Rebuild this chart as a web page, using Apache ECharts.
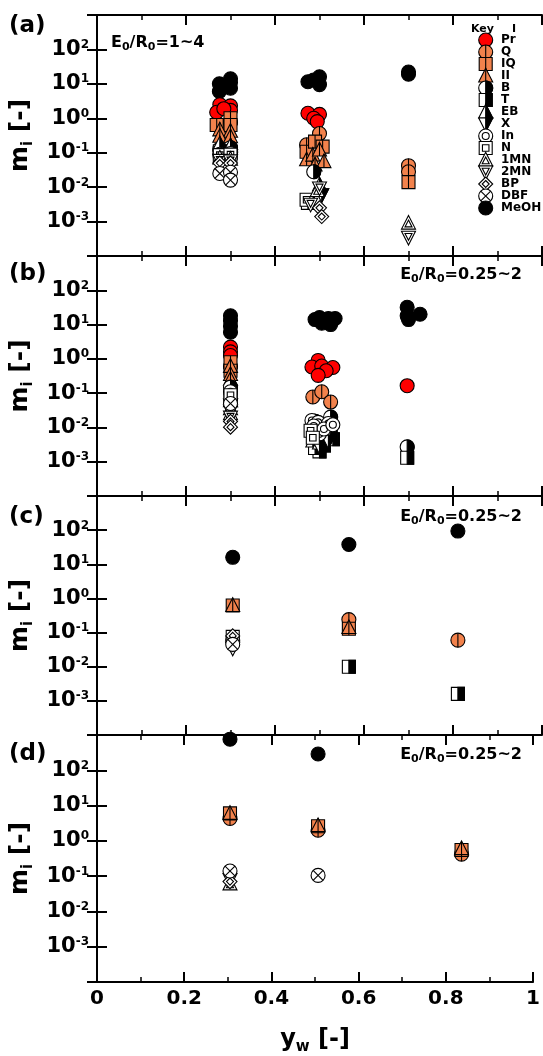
<!DOCTYPE html>
<html><head><meta charset="utf-8">
<script src="https://cdn.jsdelivr.net/npm/echarts@6/dist/echarts.min.js"></script>
<style>html,body{margin:0;padding:0;background:#fff}#c{width:543px;height:1056px}</style>
</head><body><div id="c"></div>
<script>
// ---------- data ----------
const speciesNames = ['Pr','Q','IQ','II','B','T','EB','X','In','N','1MN','2MN','BP','DBF','MeOH'];
const panelLabels = ['(a)','(b)','(c)','(d)'];
const ratioTexts = ['1~4','0.25~2','0.25~2','0.25~2'];
const xTicks = [0, 0.2, 0.4, 0.6, 0.8, 1];
const yDecades = [-3, -2, -1, 0, 1, 2];

// [species, y_w, m_i]
const dataA = [
  ['MeOH',0.275,10],['MeOH',0.275,6],['MeOH',0.285,8],['MeOH',0.30,14],['MeOH',0.30,11],['MeOH',0.30,7.5],
  ['MeOH',0.474,11.5],['MeOH',0.487,13],['MeOH',0.50,16],['MeOH',0.50,9.5],['MeOH',0.70,22],['MeOH',0.70,19],
  ['Pr',0.276,2.5],['Pr',0.269,1.5],['Pr',0.30,2.3],['Pr',0.30,1.7],['Pr',0.285,1.9],
  ['Pr',0.474,1.4],['Pr',0.50,1.3],['Pr',0.487,1.0],['Pr',0.495,0.8],
  ['Q',0.275,0.6],['Q',0.30,0.75],['Q',0.50,0.36],['Q',0.471,0.17],['Q',0.70,0.042],['Q',0.70,0.028],
  ['IQ',0.269,0.64],['IQ',0.30,1.0],['IQ',0.30,0.64],['IQ',0.471,0.107],['IQ',0.49,0.21],['IQ',0.507,0.15],['IQ',0.70,0.014],
  ['II',0.276,0.46],['II',0.30,0.42],['II',0.276,0.3],['II',0.30,0.29],
  ['II',0.471,0.062],['II',0.485,0.085],['II',0.50,0.12],['II',0.49,0.044],['II',0.51,0.055],
  ['B',0.276,0.13],['B',0.30,0.14],['B',0.487,0.028],
  ['T',0.276,0.11],['T',0.30,0.1],['T',0.474,0.0035],
  ['EB',0.276,0.18],['EB',0.30,0.16],['EB',0.50,0.0115],
  ['X',0.276,0.075],['X',0.30,0.08],['X',0.505,0.006],
  ['In',0.276,0.09],['In',0.30,0.095],
  ['N',0.276,0.085],['N',0.30,0.088],['N',0.471,0.0043],
  ['1MN',0.276,0.07],['1MN',0.30,0.065],['1MN',0.495,0.008],['1MN',0.70,0.0009],
  ['2MN',0.276,0.06],['2MN',0.30,0.058],['2MN',0.50,0.0095],['2MN',0.48,0.0032],['2MN',0.70,0.00035],
  ['BP',0.276,0.05],['BP',0.30,0.05],['BP',0.50,0.0025],['BP',0.505,0.0014],
  ['DBF',0.276,0.025],['DBF',0.30,0.027],['DBF',0.30,0.016]
];
const dataB = [
  ['MeOH',0.30,18],['MeOH',0.30,13],['MeOH',0.30,9],['MeOH',0.30,6],
  ['MeOH',0.49,14],['MeOH',0.50,16],['MeOH',0.51,13],['MeOH',0.52,15],['MeOH',0.535,15],['MeOH',0.505,11],['MeOH',0.525,10],
  ['MeOH',0.697,32],['MeOH',0.697,18],['MeOH',0.70,14],['MeOH',0.726,20],
  ['Pr',0.30,2.2],['Pr',0.30,1.6],['Pr',0.30,1.25],
  ['Pr',0.497,0.9],['Pr',0.483,0.58],['Pr',0.505,0.62],['Pr',0.53,0.56],['Pr',0.515,0.45],['Pr',0.497,0.33],['Pr',0.697,0.165],
  ['Q',0.30,0.6],['Q',0.485,0.077],['Q',0.505,0.11],['Q',0.525,0.055],
  ['IQ',0.30,0.8],['IQ',0.30,0.45],
  ['II',0.30,0.6],['II',0.30,0.35],['II',0.30,0.25],
  ['B',0.30,0.15],['B',0.525,0.02],['B',0.49,0.015],['B',0.697,0.0027],
  ['T',0.30,0.08],['T',0.51,0.003],['T',0.53,0.0045],['T',0.50,0.002],['T',0.525,0.006],['T',0.49,0.0025],['T',0.697,0.0013],
  ['EB',0.30,0.06],['EB',0.485,0.004],['EB',0.50,0.0035],
  ['X',0.30,0.045],['X',0.50,0.0028],['X',0.52,0.004],
  ['In',0.30,0.11],['In',0.483,0.016],['In',0.497,0.014],['In',0.52,0.013],['In',0.50,0.0065],['In',0.487,0.011],['In',0.51,0.009],['In',0.53,0.012],
  ['N',0.30,0.087],['N',0.48,0.008],['N',0.485,0.005],
  ['1MN',0.30,0.035],['1MN',0.30,0.025],
  ['2MN',0.30,0.03],['2MN',0.30,0.02],
  ['BP',0.30,0.015],['BP',0.30,0.0102],
  ['DBF',0.30,0.05]
];
const dataC = [
  ['MeOH',0.305,16],['MeOH',0.566,38],['MeOH',0.811,94],
  ['IQ',0.305,0.62],['IQ',0.566,0.13],
  ['II',0.305,0.62],['II',0.566,0.14],
  ['Q',0.566,0.24],['Q',0.811,0.06],
  ['T',0.566,0.01],['T',0.811,0.0016],
  ['In',0.305,0.06],['N',0.305,0.075],['BP',0.305,0.08],['2MN',0.305,0.035],['DBF',0.305,0.045]
];
const dataD = [
  ['MeOH',0.305,760],['MeOH',0.507,290],
  ['Q',0.305,4.3],['Q',0.507,2.0],['Q',0.836,0.42],
  ['IQ',0.305,6],['IQ',0.507,2.6],['IQ',0.836,0.55],
  ['II',0.305,6],['II',0.507,2.7],['II',0.836,0.6],
  ['2MN',0.305,0.08],['BP',0.305,0.07],['1MN',0.305,0.06],
  ['DBF',0.305,0.14],['DBF',0.507,0.105]
];
const panelData = [dataA, dataB, dataC, dataD];

// ---------- styling ----------
const F = 'DejaVu Sans';
const RED = '#ff0000', ORANGE = '#f2824c';
const R = 7;
const drawOrder = ['MeOH','Pr','Q','IQ','II','B','T','EB','X','In','N','1MN','2MN','BP','DBF'];

function st(fill){ return {fill: fill, stroke:'#000', lineWidth:1.1}; }
function circ(x,y,r,fill){ return {type:'circle', shape:{cx:x,cy:y,r:r}, style:st(fill)}; }
function poly(pts,fill){ return {type:'polygon', shape:{points:pts}, style:st(fill)}; }
function ln(x1,y1,x2,y2){ return {type:'line', shape:{x1:x1,y1:y1,x2:x2,y2:y2}, style:{stroke:'#000', lineWidth:1.1}}; }
function sqP(x,y,h){ return [[x-h,y-h],[x+h,y-h],[x+h,y+h],[x-h,y+h]]; }
function triP(x,y,h){ return [[x,y-h*1.1],[x+h,y+h*0.85],[x-h,y+h*0.85]]; }
function invP(x,y,h){ return [[x-h,y-h*0.85],[x+h,y-h*0.85],[x,y+h*1.1]]; }
function diaP(x,y,h){ return [[x,y-h],[x+h,y],[x,y+h],[x-h,y]]; }
function halfCircP(x,y,r){ const p=[]; for(let i=0;i<=16;i++){ const a=-Math.PI/2+Math.PI*i/16; p.push([x+r*Math.cos(a), y+r*Math.sin(a)]); } return p; }

function markerEls(sp, x, y){
  const h = R-0.5;
  switch(sp){
    case 'Pr': return [circ(x,y,R,RED)];
    case 'MeOH': return [circ(x,y,R,'#000')];
    case 'Q': return [circ(x,y,R,ORANGE), ln(x,y-R,x,y+R)];
    case 'IQ': return [poly(sqP(x,y,h),ORANGE), ln(x,y-h,x,y+h)];
    case 'II': return [poly(triP(x,y,R),ORANGE), ln(x,y-R*1.1,x,y+R*0.85)];
    case 'B': return [circ(x,y,R,'#fff'), poly(halfCircP(x,y,R),'#000')];
    case 'T': return [poly(sqP(x,y,h),'#fff'), poly([[x,y-h],[x+h,y-h],[x+h,y+h],[x,y+h]],'#000')];
    case 'EB': return [poly(triP(x,y,R),'#fff'), poly([[x,y-R*1.1],[x+R,y+R*0.85],[x,y+R*0.85]],'#000')];
    case 'X': return [poly(invP(x,y,R),'#fff'), poly([[x,y-R*0.85],[x+R,y-R*0.85],[x,y+R*1.1]],'#000')];
    case 'In': return [circ(x,y,R,'#fff'), circ(x,y,R*0.5,'#fff')];
    case 'N': return [poly(sqP(x,y,h),'#fff'), poly(sqP(x,y,h*0.5),'#fff')];
    case '1MN': return [poly(triP(x,y,R),'#fff'), poly(triP(x,y+0.8,R*0.5),'#fff')];
    case '2MN': return [poly(invP(x,y,R),'#fff'), poly(invP(x,y-0.8,R*0.5),'#fff')];
    case 'BP': return [poly(diaP(x,y,R),'#fff'), poly(diaP(x,y,R*0.5),'#fff')];
    case 'DBF': { const d=R*0.707; return [circ(x,y,R,'#fff'), ln(x-d,y-d,x+d,y+d), ln(x-d,y+d,x+d,y-d)]; }
  }
  return [];
}

// ---------- layout ----------
const grids = [
  {left:97, top:15,  width:445, height:241},
  {left:97, top:256, width:445, height:240},
  {left:97, top:496, width:445, height:239},
  {left:97, top:735, width:445, height:252}
];
const axLine = {show:true, lineStyle:{color:'#000', width:2}};

const xAxes = [], yAxes = [], series = [];
grids.forEach((g, gi) => {
  const last = gi === grids.length-1;
  ['bottom','top'].forEach(pos => {
    xAxes.push({
      type:'value', gridIndex:gi, position:pos, min:0, max:1, interval:0.2,
      axisLine:axLine, splitLine:{show:false},
      axisTick:{show:true, inside:true, length:10, lineStyle:{color:'#000', width:2}},
      minorTick:{show:true, splitNumber:2, length:5, lineStyle:{color:'#000', width:1.5}},
      axisLabel:{show: last && pos==='bottom', margin:7, color:'#000', fontFamily:F, fontWeight:'bold', fontSize:20,
        formatter: v => xTicks.indexOf(v) >= 0 ? String(v) : ''},
      name: (last && pos==='bottom') ? '{m|y}{s|w}{m| [-]}' : '',
      nameLocation:'middle', nameGap:43,
      nameTextStyle:{rich:{m:{fontSize:24, fontWeight:'bold', fontFamily:F, color:'#000', lineHeight:30},
                           s:{fontSize:15, fontWeight:'bold', fontFamily:F, color:'#000', lineHeight:15, verticalAlign:'bottom'}}}
    });
  });
  ['left','right'].forEach(pos => {
    yAxes.push({
      type:'log', logBase:10, gridIndex:gi, position:pos, min:1e-4, max:1e3, splitNumber:7,
      axisLine:axLine, splitLine:{show:false},
      axisTick:{show:true, inside:true, length:10, lineStyle:{color:'#000', width:2}},
      axisLabel:{show: pos==='left', margin:8, color:'#000',
        formatter: v => { const e = Math.round(Math.log10(v)); return yDecades.indexOf(e) >= 0 ? '{b|10}{s|' + e + '}' : ''; },
        rich:{b:{fontSize:21, fontWeight:'bold', fontFamily:F, color:'#000', lineHeight:21},
              s:{fontSize:12, fontWeight:'bold', fontFamily:F, color:'#000', lineHeight:12, verticalAlign:'top'}}},
      name: pos==='left' ? '{m|m}{s|i}{m| [-]}' : '',
      nameLocation:'middle', nameGap:46, nameRotate:90,
      nameTextStyle:{rich:{m:{fontSize:25, fontWeight:'bold', fontFamily:F, color:'#000', lineHeight:30},
                           s:{fontSize:15, fontWeight:'bold', fontFamily:F, color:'#000', lineHeight:15, verticalAlign:'bottom'}}}
    });
  });
  const data = panelData[gi];
  drawOrder.forEach(sp => {
    const pts = data.filter(d => d[0] === sp).map(d => [d[1], d[2]]);
    if (!pts.length) return;
    series.push({
      type:'custom', name:sp, xAxisIndex:gi*2, yAxisIndex:gi*2, data:pts, clip:false, silent:true, z:5,
      renderItem: (params, api) => {
        const p = api.coord([api.value(0), api.value(1)]);
        return {type:'group', children: markerEls(sp, p[0], p[1])};
      }
    });
  });
});

// ---------- texts & legend ----------
const graphic = [];
const labelPos = [[9,15],[9,263],[9,506],[9,743]];
panelLabels.forEach((t,i) => graphic.push({type:'text', x:labelPos[i][0], y:labelPos[i][1],
  style:{text:t, fontFamily:F, fontWeight:'bold', fontSize:23, fill:'#000'}}));
const ratioPos = [[111,43,'left'],[522,275,'right'],[522,517,'right'],[522,755,'right']];
ratioTexts.forEach((t,i) => graphic.push({type:'text', x:ratioPos[i][0], y:ratioPos[i][1],
  style:{text:'{n|E}{s|0}{n|/R}{s|0}{n|=' + t + '}', align:ratioPos[i][2], verticalAlign:'middle',
    rich:{n:{fontSize:16, fontWeight:'bold', fontFamily:F, fill:'#000', lineHeight:20},
          s:{fontSize:11, fontWeight:'bold', fontFamily:F, fill:'#000', lineHeight:11, verticalAlign:'bottom'}}}}));
graphic.push({type:'text', x:471, y:29, style:{text:'Key', fontFamily:F, fontWeight:'bold', fontSize:11, fill:'#000', verticalAlign:'middle'}});
graphic.push({type:'text', x:512, y:29, style:{text:'I', fontFamily:F, fontWeight:'bold', fontSize:11, fill:'#000', verticalAlign:'middle'}});
speciesNames.forEach((sp, i) => {
  const y = 40 + 12*i;
  graphic.push({type:'group', children: markerEls(sp, 485.7, y)});
  graphic.push({type:'text', x:501, y:y, style:{text:sp, fontFamily:F, fontWeight:'bold', fontSize:12, fill:'#000', verticalAlign:'middle'}});
});

const chart = echarts.init(document.getElementById('c'), null, {renderer:'canvas'});
chart.setOption({
  animation:false, backgroundColor:'#fff',
  grid: grids, xAxis: xAxes, yAxis: yAxes, series: series, graphic: graphic
});
</script></body></html>
